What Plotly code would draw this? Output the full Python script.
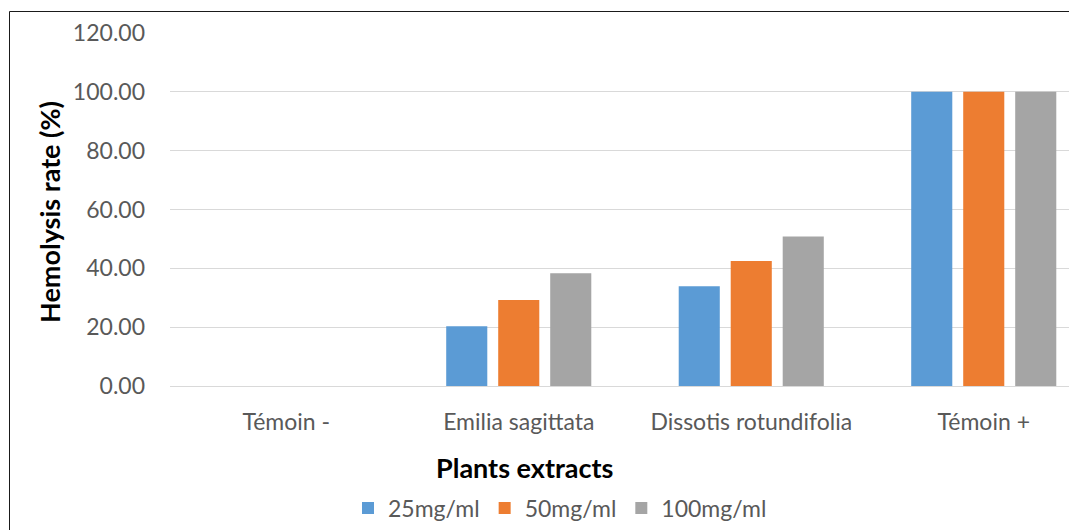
import plotly.graph_objects as go

categories = ["Témoin -", "Emilia sagittata", "Dissotis rotundifolia", "Témoin +"]
series_names = ["25mg/ml", "50mg/ml", "100mg/ml"]
vals_25 = [0.0, 20.3, 33.9, 100.0]
vals_50 = [0.0, 29.2, 42.5, 100.0]
vals_100 = [0.0, 38.3, 50.8, 100.0]
colors = ["#5B9BD5", "#ED7D31", "#A5A5A5"]
y_ticks = [0, 20, 40, 60, 80, 100, 120]

# page body has an 8px margin: work in figure coordinates = screen - 8
OFF = 8
W, H = 1077, 530
ML, MT = 170 - OFF, 33 - OFF
Y0 = 386 - OFF
MB = H - Y0
PW = W - ML
PH = H - MT - MB
cat_px = 232.5


def px(xs):
    return (xs - OFF - ML) / PW


def py(ys):
    return (Y0 - (ys - OFF)) / PH


fig = go.Figure()
for name, vals, col in zip(series_names, [vals_25, vals_50, vals_100], colors):
    fig.add_trace(go.Bar(x=categories, y=vals, name=name, marker=dict(color=col, line=dict(width=0))))

FONT = "Lato, 'Noto Sans', sans-serif"
TS = 23
fig.update_layout(
    width=W, height=H,
    margin=dict(l=ML, r=0, t=MT, b=MB, pad=0),
    paper_bgcolor="white", plot_bgcolor="white",
    barmode="group", bargap=0.329, bargroupgap=0.21,
    font=dict(family=FONT, size=TS, color="#595959"),
    xaxis=dict(
        type="category", range=[-0.5, -0.5 + PW / cat_px],
        showgrid=False, showline=False, zeroline=False, ticks="",
        tickfont=dict(family=FONT, size=TS, color="#595959"),
        ticklabelstandoff=20,
    ),
    yaxis=dict(
        range=[0, 120], tickvals=y_ticks, ticktext=[f"{v:.2f}" for v in y_ticks],
        showgrid=True, gridcolor="#D9D9D9", gridwidth=1.3,
        zeroline=True, zerolinecolor="#D9D9D9", zerolinewidth=1.3,
        showline=False, ticks="",
        tickfont=dict(family=FONT, size=TS, color="#595959"),
        ticklabelstandoff=24,
    ),
    showlegend=True,
    legend=dict(
        orientation="h", x=px(560), xanchor="center",
        y=py(508), yanchor="middle",
        font=dict(family=FONT, size=TS, color="#595959"),
        itemwidth=30, traceorder="normal", bgcolor="rgba(0,0,0,0)",
    ),
    annotations=[
        dict(text="<b>Hemolysis rate (%)</b>", xref="paper", yref="paper",
             x=px(50), y=py(212), textangle=-90,
             showarrow=False, xanchor="center", yanchor="middle",
             font=dict(family=FONT, size=27, color="#000000")),
        dict(text="<b>Plants extracts</b>", xref="paper", yref="paper",
             x=px(524), y=py(467),
             showarrow=False, xanchor="center", yanchor="middle",
             font=dict(family=FONT, size=27, color="#000000")),
    ],
    shapes=[
        dict(type="rect", xref="paper", yref="paper",
             x0=px(9.5), x1=1.2, y0=-0.6, y1=py(11.5),
             line=dict(color="#1a1a1a", width=1), fillcolor="rgba(0,0,0,0)", layer="below"),
    ],
)

fig.write_html("out.html")
